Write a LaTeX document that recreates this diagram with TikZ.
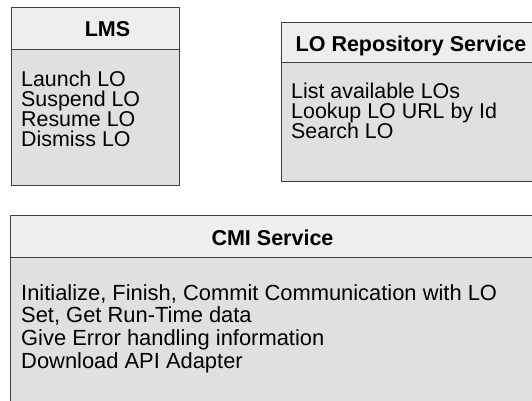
\documentclass[tikz,border=0pt]{standalone}
\usepackage{fontspec}
\setmainfont{Liberation Sans}
\definecolor{headfill}{HTML}{EFEDF0}
\definecolor{bodyfill}{HTML}{E1E0E1}
\definecolor{edge}{HTML}{404040}
\begin{document}
\begin{tikzpicture}[x=1pt,y=-1pt,
  panel/.style={draw=edge,line width=0.9pt},
  head/.style={fill=headfill,panel},
  body/.style={fill=bodyfill,panel},
  title/.style={anchor=base,inner sep=0pt,font=\fontsize{21.5}{22}\selectfont\bfseries},
  item/.style={anchor=base west,inner sep=0pt,font=\fontsize{21.4}{22}\selectfont}]
\clip (0,0) rectangle (532,400);
\fill[white] (0,0) rectangle (532,400);

% LMS panel
\path[body] (11,49) rectangle (179,185);
\path[head] (11,7) rectangle (179,49);
\node[title] (lmsT) at (107.5,36.7) {LMS};
\node[item] (lms1) at (21,86.5) {Launch LO};
\node[item] (lms2) at (21,106.5) {Suspend LO};
\node[item] (lms3) at (21,126.5) {Resume LO};
\node[item] (lms4) at (21,146.5) {Dismiss LO};

% LO repository panel
\path[body] (281,62) rectangle (545,181);
\path[head] (281,22) rectangle (545,62);
\node[title] (repT) at (411,51.7) {LO Repository Service};
\node[item] (rep1) at (291,98.3) {List available LOs};
\node[item] (rep2) at (291,118.3) {Lookup LO URL by Id};
\node[item] (rep3) at (291,138.3) {Search LO};

% CMI panel
\path[body] (10,257) rectangle (545,410);
\path[head] (10,215) rectangle (545,257);
\node[title] (cmiT) at (272.5,245) {CMI Service};
\node[item,font=\fontsize{21.9}{22}\selectfont] (cmi1) at (21,300) {Initialize, Finish, Commit Communication with LO};
\node[item,font=\fontsize{21.9}{22}\selectfont] (cmi2) at (21,322.7) {Set, Get Run-Time data};
\node[item,font=\fontsize{21.9}{22}\selectfont] (cmi3) at (21,345.4) {Give Error handling information};
\node[item,font=\fontsize{21.9}{22}\selectfont] (cmi4) at (21,368.1) {Download API Adapter};
\end{tikzpicture}
\end{document}
